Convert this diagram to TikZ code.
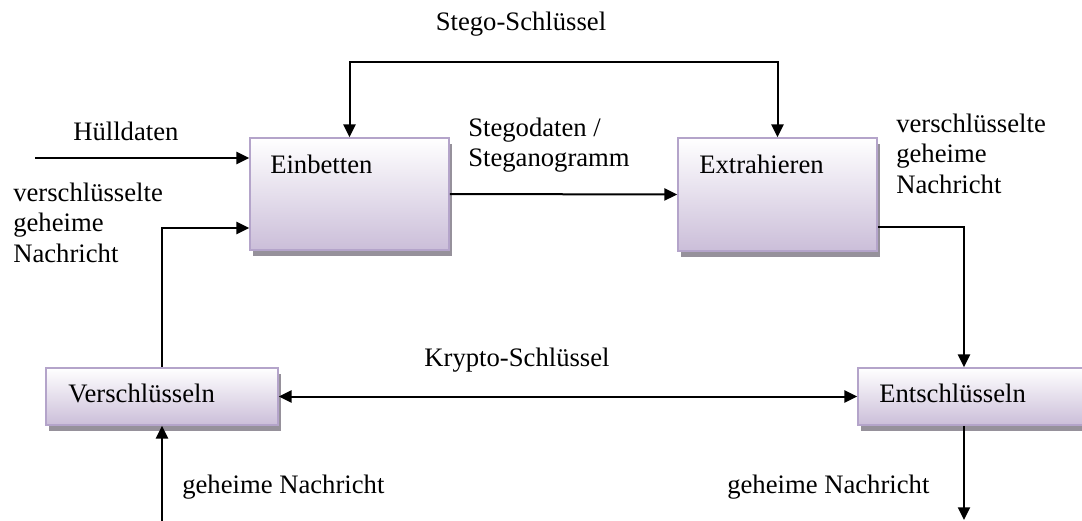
\documentclass[tikz,border=0pt]{standalone}
\usepackage{fontspec}
\setmainfont{Liberation Serif}
\usetikzlibrary{arrows.meta,shadows}
\definecolor{boxborder}{RGB}{180,164,202}
\definecolor{boxfill}{RGB}{203,190,217}
\definecolor{shadowgray}{RGB}{150,145,155}
\begin{document}
\begin{tikzpicture}[x=0.75pt,y=-0.75pt,
  font=\fontsize{20}{23}\selectfont,
  box/.style={rectangle, draw=boxborder, line width=1.3pt, inner sep=0pt,
    top color=white, bottom color=boxfill,
    general shadow={fill=shadowgray, shadow xshift=2.25pt, shadow yshift=-4.5pt}},
  txt/.style={inner sep=0pt, anchor=base west},
  arr/.style={line width=1.5pt, -{Triangle[length=9.5pt,width=9pt]}},
  arrtwo/.style={line width=1.5pt, {Triangle[length=9.5pt,width=9pt]}-{Triangle[length=9.5pt,width=9pt]}}]
\useasboundingbox (0,0) rectangle (1082,521);
\clip (0,0) rectangle (1082,521);
% boxes
\node[box, minimum width=149.25pt, minimum height=84pt] (emb) at (349.5,194) {};
\node[box, minimum width=149.25pt, minimum height=84.75pt] (ext) at (777.5,194.5) {};
\node[box, minimum width=174pt, minimum height=42.75pt] (ver) at (162,396.5) {};
\node[box, minimum width=174pt, minimum height=42.75pt] (ent) at (974,396.5) {};
% box texts
\node[txt] (tEmb) at (270,173) {Einbetten};
\node[txt] (tExt) at (699,173) {Extrahieren};
\node[txt] (tVer) at (68,402) {Verschlüsseln};
\node[txt] (tEnt) at (879,402) {Entschlüsseln};
% connectors
\coordinate (hIn) at (35,158);
\draw[arr] (hIn) -- (hIn -| emb.west);
\coordinate (c2) at (162,228);
\draw[arr] (ver.north) -- (c2) -- (c2 -| emb.west);
\draw[arr] (emb.east) -- (ext.west);
\coordinate (sk) at (563,62);
\draw[arr] (sk) -| (emb.north);
\draw[arr] (sk) -| (ext.north);
\coordinate (c3) at (964,227);
\draw[arr] (ext.east |- c3) -- (c3) -- (c3 |- ent.north);
\draw[arrtwo] (ver.east) -- (ent.west);
\coordinate (gIn) at (162,521);
\draw[arr] (gIn) -- (ver.south);
\coordinate (gOut) at (964,520);
\draw[arr] (c3 |- ent.south) -- (gOut);
% labels
\node[txt] (lH) at (73,140) {Hülldaten};
\node[txt] (lVL) at (13,201) {\begin{tabular}[t]{@{}l@{}}verschlüsselte\\geheime\\Nachricht\end{tabular}};
\node[txt] (lVR) at (896,132) {\begin{tabular}[t]{@{}l@{}}verschlüsselte\\geheime\\Nachricht\end{tabular}};
\node[txt] (lSt) at (468,136) {\begin{tabular}[t]{@{}l@{}}Stegodaten /\\Steganogramm\end{tabular}};
\node[inner sep=0pt, anchor=base] (lSS) at (521,31) {Stego-Schlüssel};
\node[inner sep=0pt, anchor=base] (lKS) at (517,366) {Krypto-Schlüssel};
\node[txt] (lG1) at (182,493) {geheime Nachricht};
\node[txt] (lG2) at (727,493) {geheime Nachricht};
\end{tikzpicture}
\end{document}
